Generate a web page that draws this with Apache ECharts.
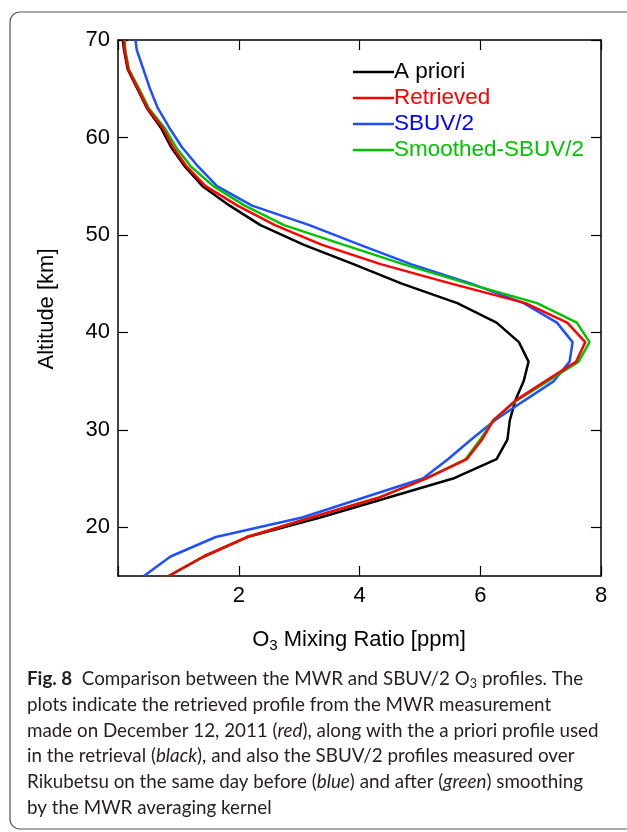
<!DOCTYPE html>
<html>
<head>
<meta charset="utf-8">
<script src="https://cdn.jsdelivr.net/npm/echarts@6/dist/echarts.min.js"></script>
<style>
  html, body { margin: 0; padding: 0; background: #fff; }
  #chart { width: 627px; height: 832px; }
</style>
</head>
<body>
<div id="chart"></div>
<script>
// Altitude levels of the profiles [km]
const altitudes = [15, 17, 19, 21, 23, 25, 27, 29, 31, 33, 35, 37, 39, 41, 43,
                   45, 47, 49, 51, 53, 55, 57, 59, 61, 63, 65, 67, 69, 70];

// O3 mixing ratio [ppm] at each altitude
const aPriori = [0.84, 1.42, 2.14, 3.35, 4.45, 5.55, 6.27, 6.45, 6.49, 6.58, 6.72, 6.80, 6.64, 6.27, 5.62,
                 4.70, 3.90, 3.07, 2.36, 1.85, 1.40, 1.11, 0.88, 0.71, 0.48, 0.32, 0.16, 0.10, 0.08];
const retrieved = [0.84, 1.42, 2.14, 3.20, 4.30, 5.10, 5.78, 6.03, 6.22, 6.58, 7.08, 7.59, 7.74, 7.44, 6.75,
                   5.52, 4.35, 3.37, 2.60, 1.98, 1.45, 1.14, 0.91, 0.74, 0.49, 0.33, 0.17, 0.11, 0.10];
const sbuv2 = [0.43, 0.87, 1.62, 3.05, 4.05, 5.05, 5.47, 5.85, 6.25, 6.73, 7.22, 7.48, 7.53, 7.27, 6.72,
               5.85, 4.85, 4.00, 3.17, 2.22, 1.64, 1.33, 1.06, 0.85, 0.66, 0.53, 0.42, 0.31, 0.29];
const smoothedSbuv2 = [0.84, 1.42, 2.14, 3.20, 4.30, 5.10, 5.76, 6.00, 6.22, 6.60, 7.12, 7.63, 7.81, 7.60, 6.94,
                       5.80, 4.72, 3.73, 2.75, 2.10, 1.58, 1.21, 0.96, 0.77, 0.51, 0.35, 0.18, 0.12, 0.11];

// Axis ticks
const xTicks = [0, 2, 4, 6, 8];
const yTicks = [20, 30, 40, 50, 60, 70];

const seriesNames = ['A priori', 'Retrieved', 'SBUV/2', 'Smoothed-SBUV/2'];
const seriesColors = { 'A priori': '#000000', 'Retrieved': '#ff0000', 'SBUV/2': '#1f4fff', 'Smoothed-SBUV/2': '#00c400' };
const legendTextColors = { 'A priori': '#000000', 'Retrieved': '#ff0000', 'SBUV/2': '#0000ff', 'Smoothed-SBUV/2': '#00c400' };
const seriesValues = { 'A priori': aPriori, 'Retrieved': retrieved, 'SBUV/2': sbuv2, 'Smoothed-SBUV/2': smoothedSbuv2 };
// drawing order: red drawn last so it sits on top
const drawOrder = ['A priori', 'SBUV/2', 'Smoothed-SBUV/2', 'Retrieved'];

const FONT = 'Liberation Sans, Arial, sans-serif';
const CAP_FONT = 'Lato, Open Sans, sans-serif';
const axisLine = { show: true, onZero: false, lineStyle: { color: '#000', width: 1.5 } };
const tickStyle = { color: '#000', width: 1.2 };

function xAxisDef(pos, showLabels) {
  return {
    type: 'value', position: pos, min: 0, max: 8, interval: 2,
    axisLine: axisLine,
    axisTick: { show: true, inside: true, length: 10, lineStyle: tickStyle },
    axisLabel: {
      show: showLabels, color: '#000', fontSize: 22, fontFamily: FONT, margin: 9,
      formatter: v => (v === 0 ? '' : String(v))
    },
    splitLine: { show: false }
  };
}
function yAxisDef(pos, showLabels) {
  return {
    type: 'value', position: pos, min: 15, max: 70,
    axisLine: axisLine,
    axisTick: { show: true, inside: true, length: 10, lineStyle: tickStyle, customValues: yTicks },
    axisLabel: {
      show: showLabels, color: '#000', fontSize: 22, fontFamily: FONT, margin: 8,
      customValues: yTicks, showMinLabel: true, showMaxLabel: true
    },
    splitLine: { show: false }
  };
}

const captionLines = [
  '{b|Fig. 8}{n|  Comparison between the MWR and SBUV/2 O}{s|3}{n| profiles. The}',
  '{n|plots indicate the retrieved profile from the MWR measurement}',
  '{n|made on December 12, 2011 (}{i|red}{n|), along with the a priori profile used}',
  '{n|in the retrieval (}{i|black}{n|), and also the SBUV/2 profiles measured over}',
  '{n|Rikubetsu on the same day before (}{i|blue}{n|) and after (}{i|green}{n|) smoothing}',
  '{n|by the MWR averaging kernel}'
];
const CAP_SIZE = 18.8;
const capRich = {
  n: { font: CAP_SIZE + 'px ' + CAP_FONT, fill: '#231f20' },
  b: { font: 'bold ' + CAP_SIZE + 'px ' + CAP_FONT, fill: '#231f20' },
  i: { font: 'italic ' + CAP_SIZE + 'px ' + CAP_FONT, fill: '#231f20' },
  s: { font: '12.5px ' + CAP_FONT, fill: '#231f20', padding: [10, 0, 0, 0] }
};

const graphics = [
  { type: 'rect', silent: true, shape: { x: 10, y: 12, width: 640, height: 817, r: 10 },
    style: { fill: 'none', stroke: '#555', lineWidth: 1.2 } },
  { type: 'text', x: 47, y: 309, rotation: Math.PI / 2,
    style: { text: 'Altitude [km]', font: '22px ' + FONT, fill: '#000', align: 'center', verticalAlign: 'middle' } },
  { type: 'text', x: 359, y: 640,
    style: {
      text: '{a|O}{s|3}{a| Mixing Ratio [ppm]}', align: 'center', verticalAlign: 'middle',
      rich: {
        a: { font: '22px ' + FONT, fill: '#000' },
        s: { font: '15px ' + FONT, fill: '#000', padding: [12, 0, 0, 0] }
      }
    } }
];
captionLines.forEach((t, k) => {
  graphics.push({ type: 'text', x: 27, y: 679 + k * 25.8,
    style: { text: t, rich: capRich, align: 'left', verticalAlign: 'middle' } });
});

const chart = echarts.init(document.getElementById('chart'), null, { renderer: 'canvas' });
chart.setOption({
  animation: false,
  backgroundColor: '#fff',
  grid: { left: 118, top: 40, width: 483, height: 536, containLabel: false },
  xAxis: [xAxisDef('bottom', true), xAxisDef('top', false)],
  yAxis: [yAxisDef('left', true), yAxisDef('right', false)],
  legend: {
    orient: 'vertical', left: 348, top: 54, itemWidth: 41, itemHeight: 2.5, itemGap: 0,
    icon: 'rect',
    textStyle: { fontSize: 22.5, fontFamily: FONT, padding: [0, 0, 0, -5], lineHeight: 26 },
    data: seriesNames.map(n => ({ name: n, textStyle: { color: legendTextColors[n] } }))
  },
  series: drawOrder.map(n => ({
    name: n, type: 'line', xAxisIndex: 0, yAxisIndex: 0,
    data: altitudes.map((a, k) => [seriesValues[n][k], a]),
    symbol: 'none', smooth: false, clip: true,
    color: seriesColors[n],
    lineStyle: { color: seriesColors[n], width: 2.5 }
  })),
  graphic: graphics
});
</script>
</body>
</html>
